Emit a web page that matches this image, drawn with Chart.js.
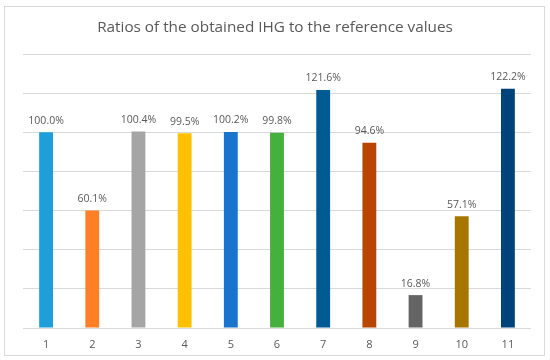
<!DOCTYPE html>
<html>
<head>
<meta charset="utf-8">
<script src="https://cdn.jsdelivr.net/npm/chart.js@4/dist/chart.umd.min.js"></script>
<style>
  html, body { margin: 0; padding: 0; background: #ffffff; }
  #wrap { width: 550px; height: 360px; position: relative; }
</style>
</head>
<body>
<div id="wrap"><canvas id="chart" width="550" height="360"></canvas></div>
<script>
var titleText = 'Ratios of the obtained IHG to the reference values';
var categories = ['1', '2', '3', '4', '5', '6', '7', '8', '9', '10', '11'];
var ratios = [100.0, 60.1, 100.4, 99.5, 100.2, 99.8, 121.6, 94.6, 16.8, 57.1, 122.2];
var barColors = ['#1E9FDB', '#FF7F27', '#A5A5A5', '#FFC000', '#1874CD', '#45B03D',
                 '#005A94', '#B84500', '#646464', '#A77600', '#00427A'];
var yMax = 140;

var textColor = '#595959';
var gridColor = '#d9d9d9';
var fontFamily = '"Open Sans", "Noto Sans", sans-serif';

// frame + title drawn by hand so the plot area can be placed exactly
var framePlugin = {
    id: 'frame',
    beforeDraw: function(chart) {
        var ctx = chart.ctx;
        ctx.save();
        ctx.fillStyle = '#ffffff';
        ctx.fillRect(0, 0, chart.width, chart.height);
        ctx.strokeStyle = gridColor;
        ctx.lineWidth = 1;
        ctx.strokeRect(4.5, 6.5, 540, 349);
        ctx.fillStyle = textColor;
        ctx.font = '15.3px ' + fontFamily;
        ctx.textAlign = 'center';
        ctx.textBaseline = 'middle';
        ctx.fillText(titleText, 275, 28);
        ctx.restore();
    },
    afterDraw: function(chart) {
        // make sure the top gridline (140%) shows
        var ctx = chart.ctx;
        var area = chart.chartArea;
        var yTop = Math.round(chart.scales.y.getPixelForValue(yMax));
        ctx.save();
        ctx.fillStyle = gridColor;
        ctx.fillRect(area.left, yTop, area.right - area.left, 1);
        ctx.restore();
    }
};

var valueLabels = {
    id: 'valueLabels',
    afterDatasetsDraw: function(chart) {
        var ctx = chart.ctx;
        var meta = chart.getDatasetMeta(0);
        ctx.save();
        ctx.fillStyle = textColor;
        ctx.font = '10.5px ' + fontFamily;
        ctx.textAlign = 'center';
        ctx.textBaseline = 'middle';
        meta.data.forEach(function(bar, i) {
            ctx.fillText(ratios[i].toFixed(1) + '%', bar.x, bar.y - 11.5);
        });
        ctx.restore();
    }
};

var ctx = document.getElementById('chart').getContext('2d');
var chart = new Chart(ctx, {
    type: 'bar',
    data: {
        labels: categories,
        datasets: [{
            data: ratios,
            backgroundColor: barColors,
            borderWidth: 0,
            barPercentage: 0.3,
            categoryPercentage: 1
        }]
    },
    options: {
        responsive: false,
        animation: false,
        layout: {
            padding: { left: 23, right: 19, top: 54, bottom: -1.2 }
        },
        plugins: {
            legend: { display: false },
            title: { display: false },
            tooltip: { enabled: false }
        },
        scales: {
            x: {
                grid: { display: false, drawTicks: false },
                border: { display: false },
                ticks: {
                    color: textColor,
                    padding: 10,
                    font: { size: 11, family: fontFamily }
                }
            },
            y: {
                min: 0,
                max: yMax,
                ticks: { display: false, stepSize: 20 },
                border: { display: false },
                grid: { color: gridColor, drawTicks: false }
            }
        }
    },
    plugins: [framePlugin, valueLabels]
});
</script>
</body>
</html>
